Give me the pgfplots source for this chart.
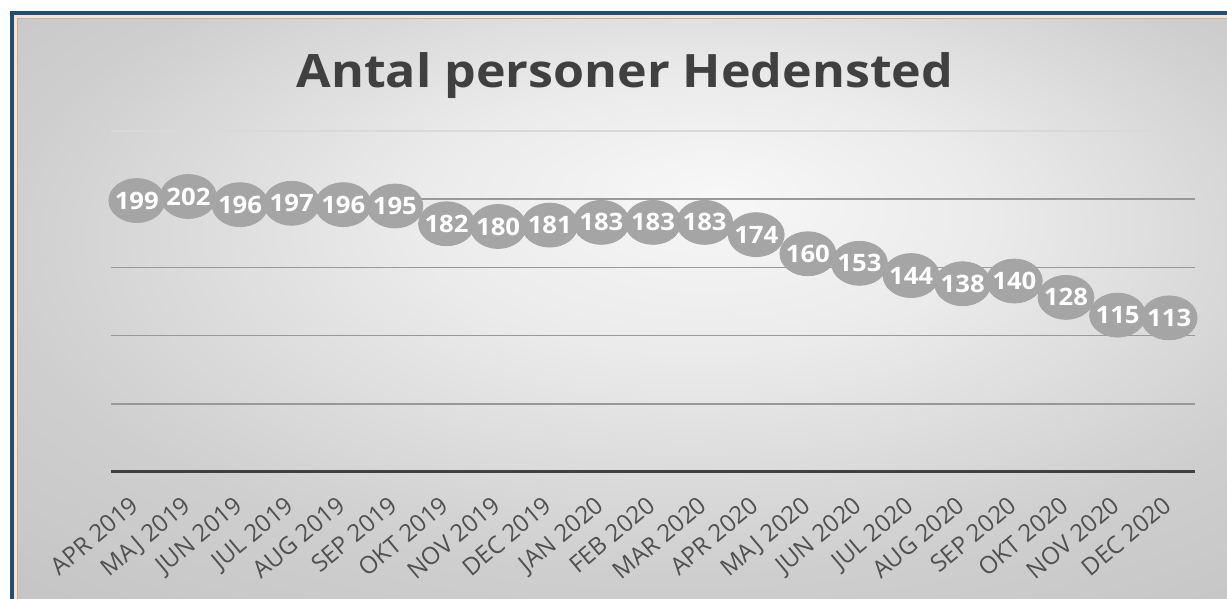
\documentclass[border=0pt]{standalone}
\usepackage{fontspec}
\setmainfont{Open Sans}
\usepackage{pgfplots}
\pgfplotsset{compat=1.18}
\definecolor{frameblue}{HTML}{1F4E79}
\definecolor{cream}{HTML}{FCE4C8}
\definecolor{markgray}{HTML}{A5A5A5}
\definecolor{titlegray}{HTML}{404040}
\definecolor{tickgray}{HTML}{505050}
\definecolor{gridgray}{HTML}{999999}
\definecolor{axisdark}{HTML}{404040}
\pgfdeclareradialshading{bgshade}{\pgfpoint{4bp}{10bp}}{color(0bp)=(white!97!black); color(12bp)=(white!92!black); color(28bp)=(white!81!black); color(40bp)=(white!77!black); color(60bp)=(white!77!black)}
\pgfplotstableread{
x y
0 199
1 202
2 196
3 197
4 196
5 195
6 182
7 180
8 181
9 183
10 183
11 183
12 174
13 160
14 153
15 144
16 138
17 140
18 128
19 115
20 113
}\datatable
\begin{document}
\begin{tikzpicture}
\begin{scope}[x=0.5pt,y=0.5pt]
\useasboundingbox (0,0) rectangle (1227,599);
\clip (0,0) rectangle (1227,599);
\fill[white] (0,0) rectangle (1227,599);
\fill[frameblue] (9.5,-20) rectangle (1260,587.5);
\fill[cream] (13.5,-20) rectangle (1260,583.5);
\fill[white!72!black] (16.5,-20) rectangle (1260,580.5);
\shade[shading=bgshade] (18,0) rectangle (1227,579.5);
\end{scope}
\node[anchor=base, xscale=1.09, font=\bfseries\fontsize{23}{23}\selectfont, text=titlegray] at (312.5pt,255.5pt) {Antal personer Hedensted};
\begin{axis}[
  at={(55.5pt,63.5pt)}, anchor=south west,
  scale only axis, width=542pt, height=170.5pt,
  xmin=-0.5, xmax=20.5, ymin=0, ymax=250,
  axis line style={draw=none},
  tick style={draw=none},
  xtick={0,...,20},
  xticklabels={APR 2019, MAJ 2019, JUN 2019, JUL 2019, AUG 2019, SEP 2019, OKT 2019, NOV 2019, DEC 2019, JAN 2020, FEB 2020, MAR 2020, APR 2020, MAJ 2020, JUN 2020, JUL 2020, AUG 2020, SEP 2020, OKT 2020, NOV 2020, DEC 2020},
  xticklabel style={xshift=2pt, yshift=-18pt, rotate=40, anchor=base east, inner sep=0pt, font=\fontsize{12}{12}\selectfont, text=tickgray},
  ytick={50,100,150,200}, yticklabels={},
  ymajorgrids, major grid style={draw=gridgray, line width=0.8pt},
  minor ytick={250}, yminorgrids, minor grid style={draw=white!85!black, line width=0.8pt},
  extra y ticks={0}, extra y tick labels={},
  extra tick style={major grid style={draw=axisdark, line width=1.5pt}},
  /pgf/number format/assume math mode=true,
  clip=false,
]
\addplot[only marks, color=markgray, mark=*, mark size=11pt,
  mark options={fill=markgray, draw=markgray, xscale=1.27},
  nodes near coords,
  nodes near coords align={center},
  every node near coord/.append style={anchor=center, xscale=1.07, text=white, font=\bfseries\fontsize{12}{12}\selectfont}]
  table[x=x,y=y] {\datatable};
\end{axis}
\end{tikzpicture}
\end{document}
